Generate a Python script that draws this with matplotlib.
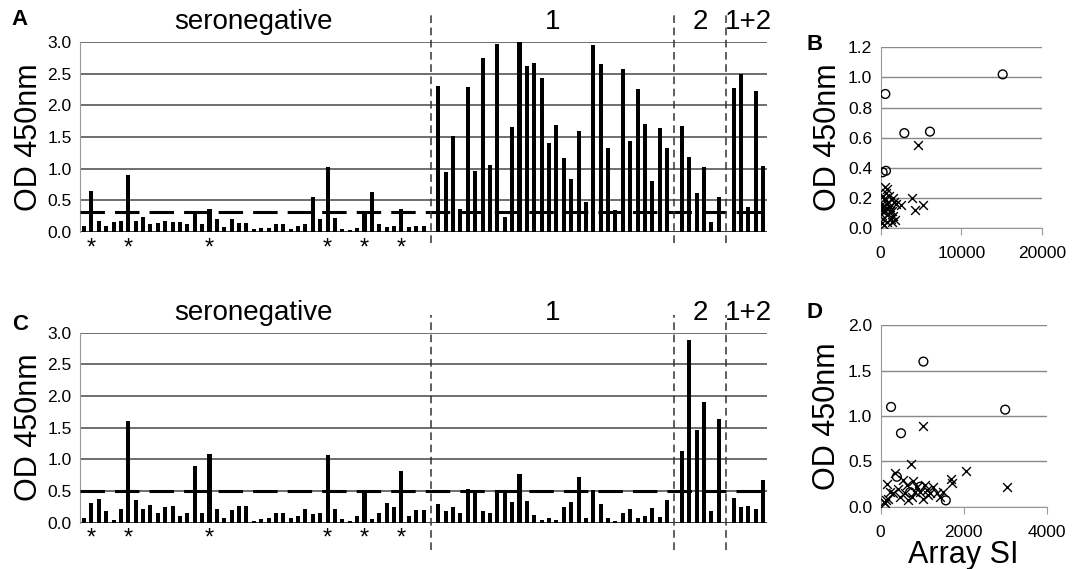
import numpy as np
import matplotlib
matplotlib.use('Agg')
import matplotlib.pyplot as plt

plt.rcParams['font.family'] = ['Liberation Sans', 'DejaVu Sans']

# ---- panel A : OD per serum, grouped by array call ----
a_seroneg = [0.10, 0.65, 0.17, 0.10, 0.16, 0.18, 0.90, 0.17, 0.24, 0.12,
             0.14, 0.18, 0.15, 0.16, 0.12, 0.28, 0.13, 0.37, 0.20, 0.08,
             0.20, 0.14, 0.14, 0.04, 0.06, 0.07, 0.12, 0.12, 0.05, 0.09,
             0.12, 0.55, 0.21, 1.03, 0.22, 0.05, 0.03, 0.07, 0.28, 0.63,
             0.12, 0.08, 0.09, 0.36, 0.08, 0.10, 0.10]
a_hsv1 = [2.31, 0.95, 1.52, 0.36, 2.29, 0.97, 2.75, 1.06, 2.97, 0.23,
          1.65, 3.00, 2.62, 2.66, 2.43, 1.41, 1.69, 1.17, 0.83, 1.60,
          0.47, 2.95, 2.65, 1.33, 0.35, 2.58, 1.43, 2.26, 1.71, 0.81,
          1.64, 1.33]
a_hsv2 = [1.67, 1.18, 0.62, 1.02, 0.16, 0.56]
a_both = [2.27, 2.50, 0.40, 2.22, 1.04]
a_cutoff = 0.32

# ---- panel C ----
c_seroneg = [0.07, 0.31, 0.38, 0.18, 0.04, 0.21, 1.61, 0.36, 0.22, 0.28,
             0.16, 0.25, 0.27, 0.11, 0.16, 0.90, 0.16, 1.09, 0.21, 0.08,
             0.20, 0.26, 0.27, 0.03, 0.06, 0.08, 0.16, 0.16, 0.07, 0.11,
             0.21, 0.13, 0.16, 1.07, 0.21, 0.06, 0.03, 0.11, 0.48, 0.06,
             0.16, 0.31, 0.25, 0.81, 0.11, 0.20, 0.20]
c_hsv1 = [0.30, 0.18, 0.24, 0.16, 0.53, 0.50, 0.18, 0.16, 0.51, 0.48,
          0.32, 0.77, 0.35, 0.12, 0.04, 0.08, 0.05, 0.25, 0.33, 0.72,
          0.07, 0.51, 0.29, 0.07, 0.03, 0.16, 0.22, 0.08, 0.10, 0.23,
          0.09, 0.36]
c_hsv2 = [1.13, 2.89, 1.47, 1.91, 0.18, 1.63]
c_both = [0.39, 0.25, 0.27, 0.22, 0.67]
c_cutoff = 0.50

group_names = ['seronegative', '1', '2', '1+2']
star_samples = [1, 6, 17, 33, 38, 43]

# ---- panel B : OD vs array SI ----
b_pos_x = [15100, 580, 2930, 6100, 250, 660]
b_pos_y = [1.02, 0.89, 0.63, 0.64, 0.37, 0.38]
b_neg_x = [4660, 3920, 4250, 5280, 2470, 120, 330, 0, 165, 500, 830, 660,
           1030, 410, 740, 1150, 1400, 1570, 1770, 540, 950, 1280, 1650,
           1490, 1900, 250, 40, 410, 740, 1150, 660, 120, 950, 330, 1360]
b_neg_y = [0.55, 0.20, 0.12, 0.15, 0.15, 0.03, 0.06, 0.12, 0.16, 0.27,
           0.26, 0.23, 0.21, 0.19, 0.16, 0.14, 0.11, 0.08, 0.05, 0.11,
           0.09, 0.06, 0.17, 0.20, 0.16, 0.21, 0.09, 0.02, 0.04, 0.11,
           0.13, 0.14, 0.17, 0.11, 0.04]

# ---- panel D ----
d_pos_x = [1030, 250, 490, 3000, 1570, 390, 950, 710]
d_pos_y = [1.60, 1.10, 0.81, 1.07, 0.07, 0.33, 0.22, 0.16]
d_neg_x = [1030, 730, 2060, 1700, 1710, 3050, 160, 345, 550, 630, 790, 870,
           950, 1110, 1150, 1270, 1350, 1430, 1510, 225, 130, 80, 105, 185,
           305, 425, 670, 750, 1030, 590, 470, 830, 1070, 1190]
d_neg_y = [0.89, 0.47, 0.39, 0.30, 0.26, 0.22, 0.25, 0.37, 0.29, 0.24,
           0.28, 0.22, 0.16, 0.18, 0.13, 0.22, 0.15, 0.11, 0.16, 0.16,
           0.07, 0.05, 0.04, 0.09, 0.15, 0.20, 0.07, 0.11, 0.09, 0.15,
           0.11, 0.16, 0.24, 0.15]


def build(groups):
    # one empty slot between groups, where the divider goes
    vals, bounds, centers = [], [], []
    for k, g in enumerate(groups):
        start = len(vals)
        vals.extend(g)
        centers.append(start + (len(g) - 1) / 2)
        if k < len(groups) - 1:
            bounds.append(len(vals))
            vals.append(np.nan)
    return np.array(vals), bounds, centers


def bar_panel(rect, groups, cutoff, letter, letter_y, div_lim, star_y):
    ax = fig.add_axes(rect)
    vals, bounds, centers = build(groups)
    x = np.arange(len(vals))
    ax.bar(x, np.nan_to_num(vals), width=0.55, color='black', zorder=3)
    ax.set_xlim(-0.55, len(vals) - 0.45)
    ax.set_ylim(0, 3.0)
    ax.set_yticks(np.arange(0, 3.01, 0.5))
    ax.set_yticklabels(['%.1f' % v for v in np.arange(0, 3.01, 0.5)], fontsize=12.5)
    ax.yaxis.grid(True, color='#555555', lw=1.2, zorder=1)
    ax.set_axisbelow(True)
    ax.set_xticks([])
    for s in ['top', 'right', 'bottom']:
        ax.spines[s].set_visible(False)
    ax.spines['left'].set_color('#999999')
    ax.tick_params(axis='y', length=0, pad=6)
    ax.axhline(0, color='#333333', lw=1.3, zorder=2)
    ax.axhline(cutoff, color='black', lw=2.2, ls=(0, (8, 3.3)), zorder=4)
    for b in bounds:
        ax.axvline(b, ymin=div_lim[0], ymax=div_lim[1], color='#333333',
                   lw=1.1, ls=(0, (5, 3)), clip_on=False, zorder=5)
    for name, c in zip(group_names, centers):
        ax.text(c, 1.105, name, transform=ax.get_xaxis_transform(),
                ha='center', va='center', fontsize=20)
    for s in star_samples:
        ax.text(s, star_y, '*', transform=ax.get_xaxis_transform(),
                ha='center', va='center', fontsize=17)
    ax.set_ylabel('OD 450nm', fontsize=22, labelpad=2)
    fig.text(0.011, letter_y, letter, fontsize=16, fontweight='bold',
             va='center')
    return ax


def scatter_panel(rect, px, py, nx, ny, xmax, ymax, ystep, letter, letter_y):
    ax = fig.add_axes(rect)
    ax.scatter(px, py, marker='o', s=40, facecolors='none',
               edgecolors='black', linewidths=1.0, zorder=3)
    ax.scatter(nx, ny, marker='x', s=40, color='black', linewidths=1.0,
               zorder=3)
    ax.set_xlim(0, xmax)
    ax.set_ylim(0, ymax)
    yt = np.arange(0, ymax + 1e-9, ystep)
    ax.set_yticks(yt)
    ax.set_yticklabels(['%.1f' % v for v in yt], fontsize=12.5)
    ax.set_xticks([0, xmax / 2, xmax])
    ax.set_xticklabels(['%d' % v for v in [0, xmax / 2, xmax]], fontsize=12.5)
    ax.yaxis.grid(True, color='#888888', lw=1.0, zorder=1)
    ax.set_axisbelow(True)
    for s in ['top', 'right']:
        ax.spines[s].set_visible(False)
    ax.spines['left'].set_color('#999999')
    ax.spines['bottom'].set_color('#999999')
    ax.tick_params(axis='y', length=0, pad=6)
    ax.tick_params(axis='x', length=5, color='#999999', pad=8)
    ax.set_ylabel('OD 450nm', fontsize=22, labelpad=4)
    fig.text(0.752, letter_y, letter, fontsize=16, fontweight='bold',
             va='center')
    return ax


fig = plt.figure(figsize=(10.72, 5.69), dpi=100)

bar_panel([0.0746, 0.5923, 0.641, 0.334],
          [a_seroneg, a_hsv1, a_hsv2, a_both], a_cutoff, 'A', 0.966,
          (-0.058, 1.14), -0.085)
bar_panel([0.0746, 0.0814, 0.641, 0.334],
          [c_seroneg, c_hsv1, c_hsv2, c_both], c_cutoff, 'C', 0.43,
          (-0.144, 1.093), -0.085)

scatter_panel([0.8215, 0.5993, 0.1508, 0.3176],
              b_pos_x, b_pos_y, b_neg_x, b_neg_y, 20000, 1.2, 0.2, 'B', 0.922)
axd = scatter_panel([0.8215, 0.1095, 0.1549, 0.3188],
                    d_pos_x, d_pos_y, d_neg_x, d_neg_y, 4000, 2.0, 0.5, 'D', 0.45)
axd.set_xlabel('Array SI', fontsize=22, labelpad=0)

fig.savefig('out.png', dpi=100)
